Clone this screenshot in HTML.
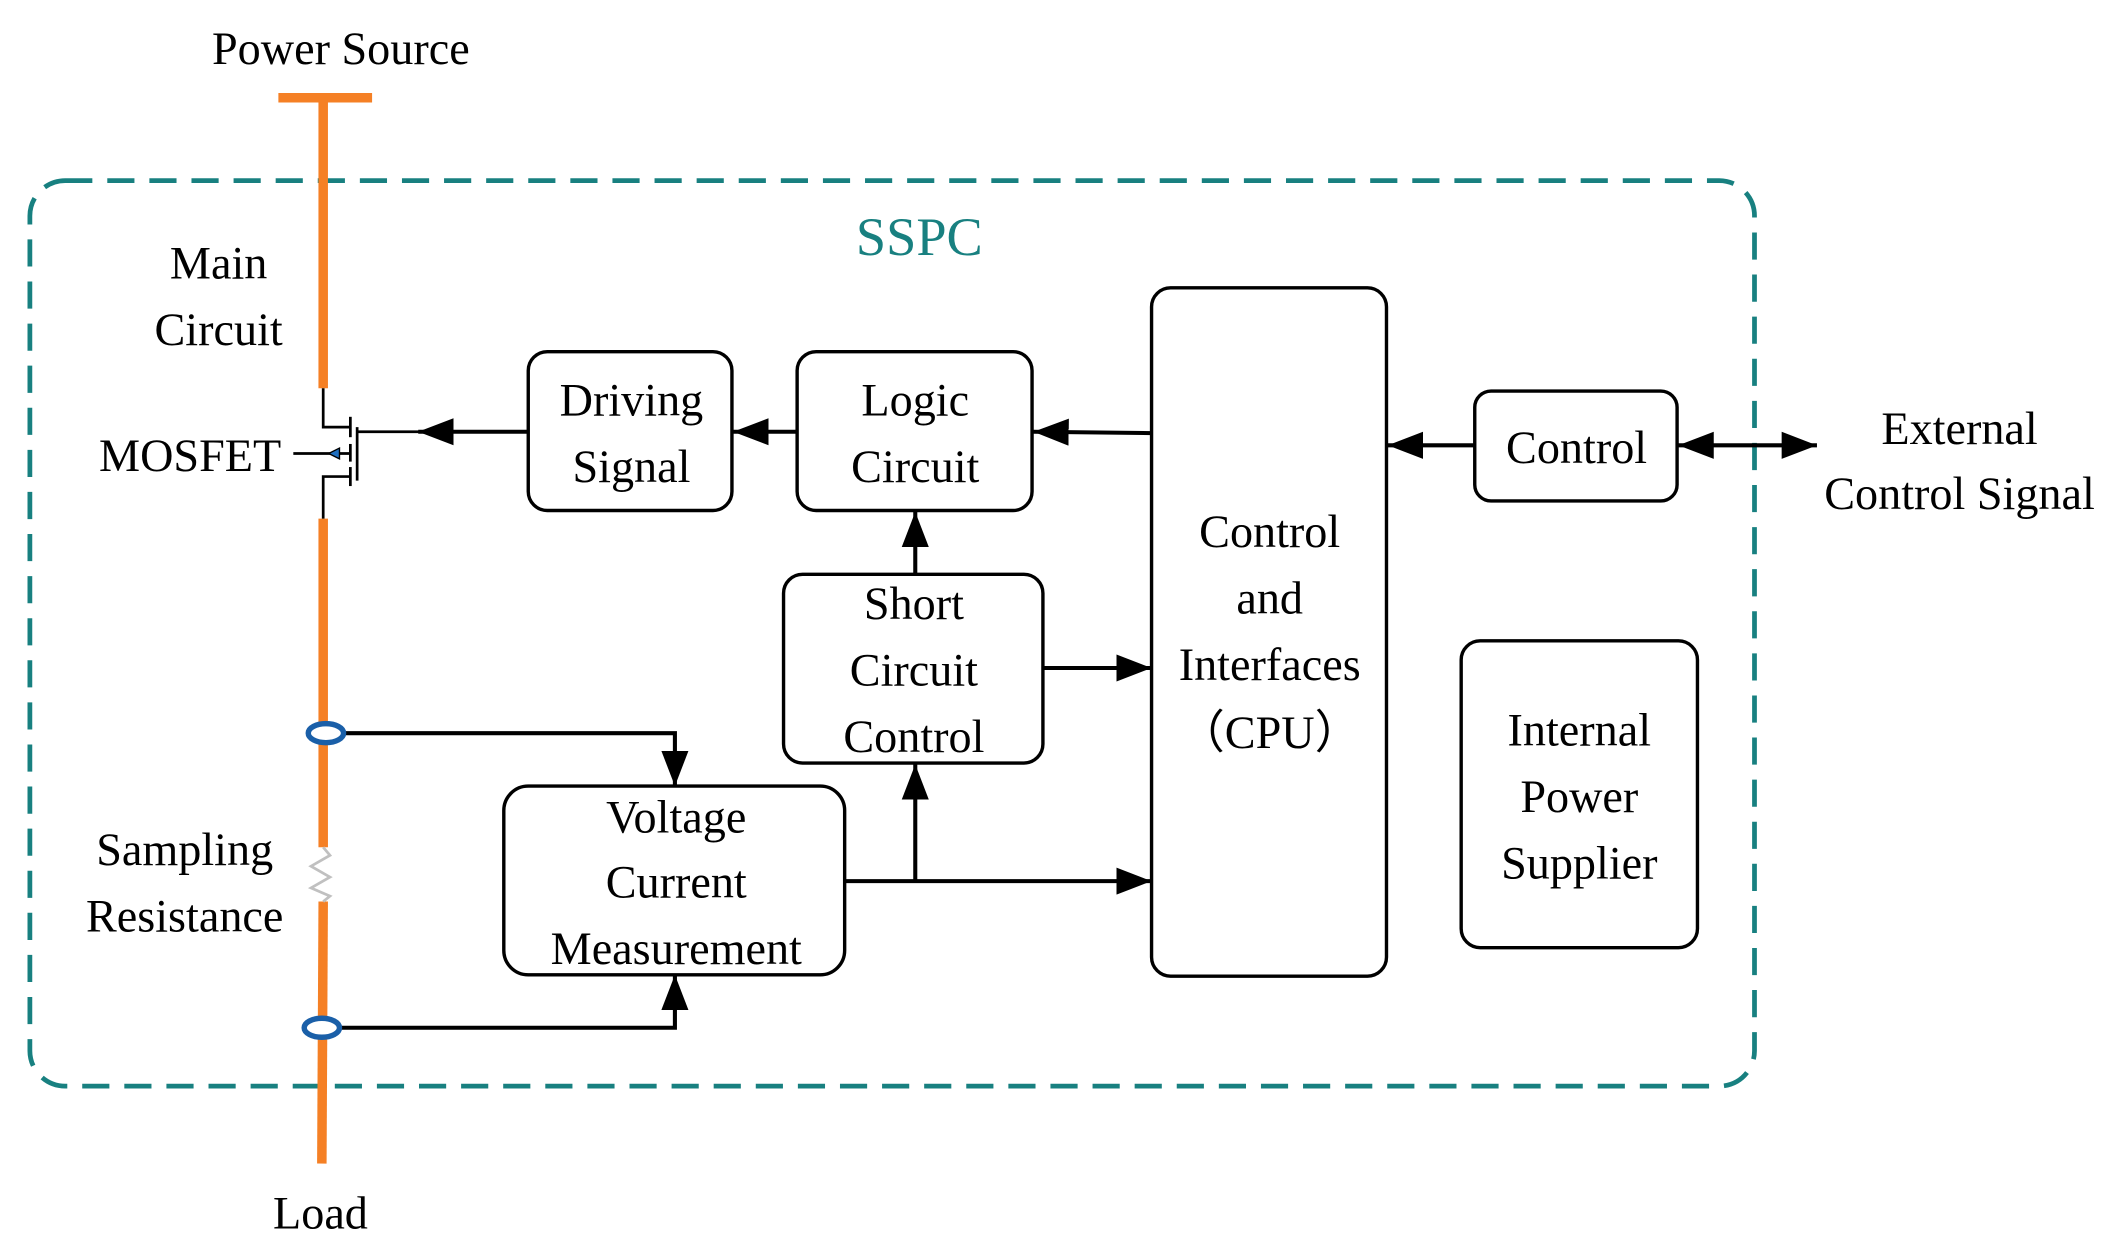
<!DOCTYPE html>
<html><head><meta charset="utf-8"><style>
html,body{margin:0;padding:0;background:#fff;}
svg{display:block;}
text{font-family:"Liberation Serif",serif;font-size:34px;fill:#000;text-anchor:middle;}
</style></head><body>
<svg width="2113" height="1245" viewBox="0 0 1556 917" preserveAspectRatio="none" xmlns="http://www.w3.org/2000/svg">
<defs>
<marker id="a" viewBox="0 0 26 20" refX="26" refY="10" markerWidth="26" markerHeight="20" markerUnits="userSpaceOnUse" orient="auto-start-reverse"><path d="M0,0 L26,10 L0,20 z" fill="#000"/></marker>
</defs>
<rect x="22" y="133" width="1270" height="667" rx="26" fill="none" stroke="#188080" stroke-width="3.5" stroke-dasharray="20,11"/>
<text x="677" y="188" style="fill:#188080;font-size:40px">SSPC</text>
<g stroke="#f58025" stroke-width="7" fill="none">
<line x1="205" y1="72" x2="274" y2="72"/>
<line x1="238" y1="72" x2="238" y2="286"/>
<line x1="238" y1="382" x2="238" y2="624"/>
<line x1="238" y1="664" x2="237" y2="857"/>
</g>
<polyline points="238,624 243,630 229,638 243,646 229,654 243,660 238,664" fill="none" stroke="#c0c0c0" stroke-width="2"/>
<g stroke="#000" stroke-width="2" fill="none">
<polyline points="238,286 238,314.6 258,314.6"/>
<polyline points="238,382 238,351 258,351"/>
<line x1="258" y1="307" x2="258" y2="322"/>
<line x1="258" y1="327" x2="258" y2="340"/>
<line x1="258" y1="344" x2="258" y2="358"/>
<line x1="263" y1="314.6" x2="263" y2="354"/>
<line x1="263" y1="318" x2="330" y2="318"/>
<line x1="216" y1="334" x2="258" y2="334"/>
</g>
<path d="M242,334 L250,330 L250,338 z" fill="#1f6fc0" stroke="#000" stroke-width="1"/>
<g fill="none" stroke="#000" stroke-width="2.5">
<rect x="389" y="259" width="150" height="117" rx="14"/>
<rect x="587" y="259" width="173" height="117" rx="14"/>
<rect x="577" y="423" width="191" height="139" rx="14"/>
<rect x="371" y="579" width="251" height="139" rx="18"/>
<rect x="848" y="212" width="173" height="507" rx="14"/>
<rect x="1086" y="288" width="149" height="81" rx="12"/>
<rect x="1076" y="472" width="174" height="226" rx="14"/>
</g>
<g stroke="#000" stroke-width="3" fill="none">
<line x1="389" y1="318" x2="308" y2="318" marker-end="url(#a)"/>
<line x1="587" y1="318" x2="540" y2="318" marker-end="url(#a)"/>
<line x1="848" y1="319" x2="761" y2="318" marker-end="url(#a)"/>
<line x1="1086" y1="328" x2="1022" y2="328" marker-end="url(#a)"/>
<line x1="1236" y1="328" x2="1338" y2="328" marker-start="url(#a)" marker-end="url(#a)"/>
<line x1="674" y1="423" x2="674" y2="377" marker-end="url(#a)"/>
<line x1="768" y1="492" x2="848" y2="492" marker-end="url(#a)"/>
<line x1="622" y1="649" x2="848" y2="649" marker-end="url(#a)"/>
<line x1="674" y1="649" x2="674" y2="563" marker-end="url(#a)"/>
<polyline points="240,540 497,540 497,579" marker-end="url(#a)"/>
<polyline points="237,757 497,757 497,718" marker-end="url(#a)"/>
</g>
<g fill="#fff" stroke="#1a5fa8" stroke-width="4">
<ellipse cx="240" cy="540" rx="13" ry="7"/>
<ellipse cx="237" cy="757" rx="13" ry="7"/>
</g>
<text x="251" y="47">Power Source</text>
<text x="161" y="205">Main</text>
<text x="161" y="254">Circuit</text>
<text x="140" y="347">MOSFET</text>
<text x="136" y="637">Sampling</text>
<text x="136" y="686">Resistance</text>
<text x="236" y="905">Load</text>
<text x="465" y="306">Driving</text>
<text x="465" y="355">Signal</text>
<text x="674" y="306">Logic</text>
<text x="674" y="355">Circuit</text>
<text x="673" y="456">Short</text>
<text x="673" y="505">Circuit</text>
<text x="673" y="554">Control</text>
<text x="498" y="613">Voltage</text>
<text x="498" y="661">Current</text>
<text x="498" y="710">Measurement</text>
<text x="935" y="403">Control</text>
<text x="935" y="452">and</text>
<text x="935" y="501">Interfaces</text>
<text x="935" y="551">（CPU）</text>
<text x="1161" y="341">Control</text>
<text x="1163" y="549">Internal</text>
<text x="1163" y="598">Power</text>
<text x="1163" y="647">Supplier</text>
<text x="1443" y="327">External</text>
<text x="1443" y="375">Control Signal</text>
</svg>
</body></html>
